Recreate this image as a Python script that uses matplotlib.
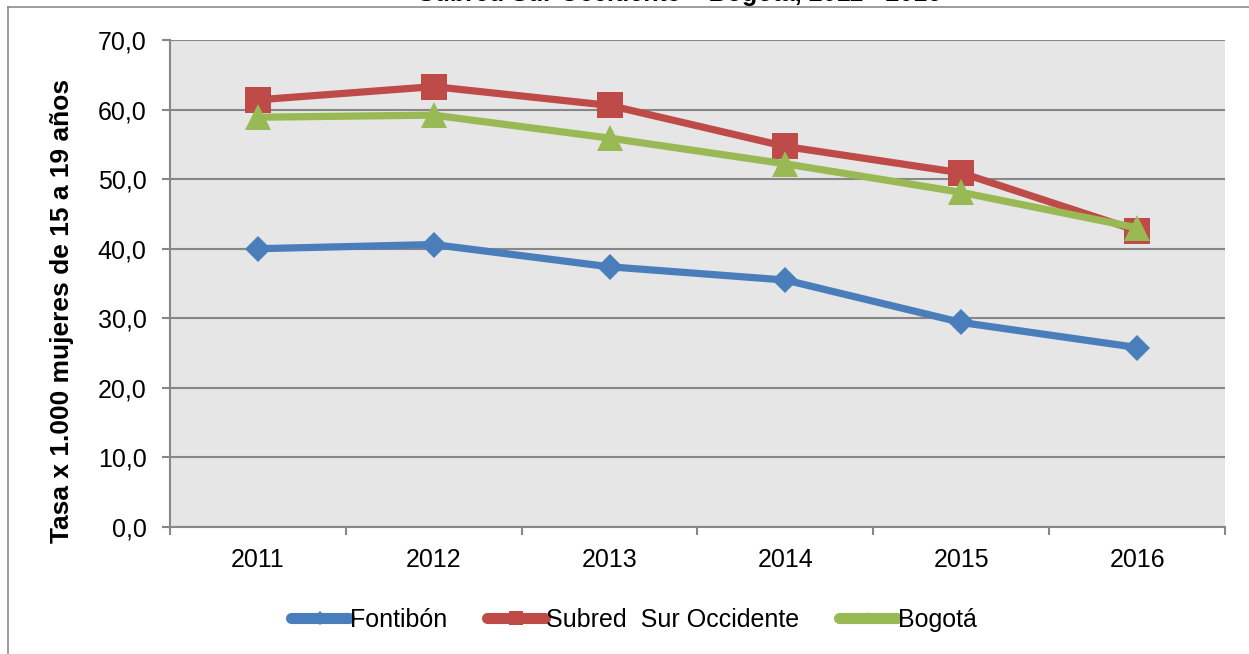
from matplotlib import use as setRenderingBackend  # isort:skip noqa:E402
setRenderingBackend('Agg')  # isort:skip

from matplotlib import pyplot as plt  # noqa: E402
from matplotlib.lines import Line2D  # noqa: E402

# # Data

years = ['2011', '2012', '2013', '2014', '2015', '2016']
fontibon = [40.0, 40.6, 37.4, 35.5, 29.4, 25.8]
subred = [61.4, 63.3, 60.6, 54.7, 50.9, 42.6]
bogota = [58.9, 59.2, 55.9, 52.2, 48.1, 43.0]

y_ticks = [0, 10, 20, 30, 40, 50, 60, 70]
y_tick_labels = ['0,0', '10,0', '20,0', '30,0', '40,0', '50,0', '60,0', '70,0']

series_names = ['Fontibón', 'Subred  Sur Occidente', 'Bogotá']
title = 'Subred Sur Occidente – Bogotá, 2011 - 2016'
y_label = 'Tasa x 1.000 mujeres de 15 a 19 años'

BLUE = '#4A7EBB'
RED = '#BE4B48'
GREEN = '#98B954'
GRID = '#878787'
FRAME = '#8C8C8C'

W, H = 1249, 654


def px_x(x):
    return x / W


def px_y(y):
    return 1 - y / H


def draw_frame(fig):
    # outer chart border, only left and top are visible in the crop
    fig.add_artist(Line2D([px_x(8), px_x(8)], [px_y(7), 0], color=FRAME, lw=1.2))
    fig.add_artist(Line2D([px_x(8), 1], [px_y(7), px_y(7)], color=FRAME, lw=1.2))


def draw_chart():
    plt.rcParams['font.family'] = ['Liberation Sans', 'DejaVu Sans']
    fig = plt.figure(figsize=(W / 100, H / 100), dpi=100)
    ax = fig.add_axes([px_x(170), px_y(527), px_x(1225 - 170), (527 - 40) / H])
    ax.set_facecolor('#E6E6E6')

    xs = list(range(len(years)))
    series = [
        (fontibon, BLUE, 'D', 13),
        (subred, RED, 's', 18.5),
        (bogota, GREEN, '^', 18.5),
    ]
    for values, color, marker, size in series:
        ax.plot(xs, values, color=color, lw=5.2, marker=marker, markersize=size,
                markeredgewidth=0, solid_joinstyle='round', zorder=3)

    ax.set_xlim(-0.5, len(years) - 0.5)
    ax.set_ylim(0, 70)
    ax.set_yticks(y_ticks)
    ax.set_yticklabels(y_tick_labels)
    ax.set_xticks(xs)
    ax.set_xticklabels(years)
    ax.set_xticks([i - 0.5 for i in range(len(years) + 1)], minor=True)

    ax.yaxis.grid(True, color=GRID, lw=1.5)
    ax.set_axisbelow(True)
    for side in ['top', 'right']:
        ax.spines[side].set_visible(False)
    for side in ['left', 'bottom']:
        ax.spines[side].set_color(GRID)
        ax.spines[side].set_linewidth(1.5)

    ax.tick_params(axis='y', length=6, width=1.5, color=GRID, pad=11, labelsize=18)
    ax.tick_params(axis='x', which='major', length=0, pad=15, labelsize=18)
    ax.tick_params(axis='x', which='minor', length=6, width=1.5, color=GRID)

    fig.text(px_x(62), px_y(311), y_label, rotation=90, ha='center', va='center',
             fontsize=19, fontweight='bold')
    # title sits above the visible crop, only its lower edge shows
    fig.text(px_x(680), px_y(1), title, ha='center', va='baseline',
             fontsize=18, fontweight='bold')

    handles = [
        Line2D([], [], color=BLUE, lw=8, marker='D', markersize=7, markeredgewidth=0,
               solid_capstyle='round'),
        Line2D([], [], color=RED, lw=8, marker='s', markersize=10, markeredgewidth=0,
               solid_capstyle='round'),
        Line2D([], [], color=GREEN, lw=8, marker='^', markersize=9, markeredgewidth=0,
               solid_capstyle='round'),
    ]
    fig.legend(handles, series_names, loc='center', ncol=3, frameon=False,
               bbox_to_anchor=(px_x(634), px_y(620)), fontsize=18,
               handlelength=2.3, handletextpad=0.05, columnspacing=1.6)

    draw_frame(fig)
    return fig


def main():
    fig = draw_chart()
    fig.savefig('out.png', dpi=100)
    plt.close(fig)


if __name__ == '__main__':
    main()
